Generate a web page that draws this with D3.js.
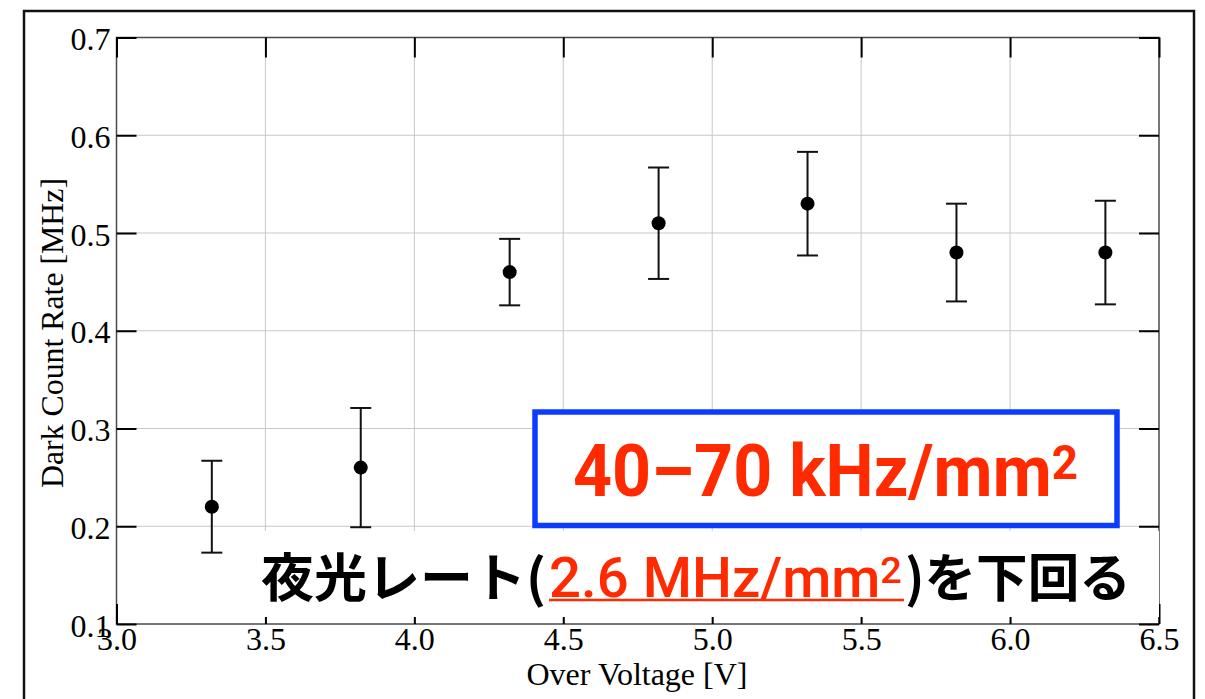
<!DOCTYPE html>
<html>
<head>
<meta charset="utf-8">
<script src="https://cdn.jsdelivr.net/npm/d3@7"></script>
<style>
  body { margin: 0; background: #fff; }
  svg { display: block; }
</style>
</head>
<body>
<div id="chart"></div>
<script>
// measured points: over voltage [V] vs dark count rate [MHz]
const overVoltage = [3.32, 3.82, 4.32, 4.82, 5.32, 5.82, 6.32];
const darkRate    = [0.22, 0.26, 0.46, 0.51, 0.53, 0.48, 0.48];
const rateErr     = [0.047, 0.061, 0.034, 0.057, 0.053, 0.050, 0.053];

const xTicks = [3.0, 3.5, 4.0, 4.5, 5.0, 5.5, 6.0, 6.5];
const yTicks = [0.1, 0.2, 0.3, 0.4, 0.5, 0.6, 0.7];

var width = 1205, height = 699;
// plot area (note: "top" is reserved on window, so use p* names)
var pLeft = 116.5, pRight = 1159, pTop = 37.5, pBottom = 624;

var svg = d3.select("#chart").append("svg")
    .attr("width", width)
    .attr("height", height);

// outer slide frame
svg.append("rect")
    .attr("x", 24).attr("y", 11)
    .attr("width", 1170).attr("height", 740)
    .attr("fill", "none")
    .attr("stroke", "#111")
    .attr("stroke-width", 2.5);

var x = d3.scaleLinear().domain([3.0, 6.5]).range([pLeft, pRight]);
var y = d3.scaleLinear().domain([0.1, 0.7]).range([pBottom, pTop]);

// grid
svg.append("g").selectAll("line")
    .data(xTicks.slice(1, -1))
    .join("line")
    .attr("x1", d => x(d)).attr("x2", d => x(d))
    .attr("y1", pTop).attr("y2", pBottom)
    .attr("stroke", "#c8c8c8").attr("stroke-width", 1);
svg.append("g").selectAll("line")
    .data(yTicks.slice(1, -1))
    .join("line")
    .attr("x1", pLeft).attr("x2", pRight)
    .attr("y1", d => y(d)).attr("y2", d => y(d))
    .attr("stroke", "#c8c8c8").attr("stroke-width", 1);

// plot frame
svg.append("rect")
    .attr("x", pLeft).attr("y", pTop)
    .attr("width", pRight - pLeft).attr("height", pBottom - pTop)
    .attr("fill", "none")
    .attr("stroke", "#4a4a4a")
    .attr("stroke-width", 1.5);

var fmt = d3.format(".1f");
var tickFont = "'Liberation Serif', 'Times New Roman', serif";

function styleAxis(g) {
    g.select(".domain").remove();
    g.selectAll(".tick line").attr("stroke", "#000").attr("stroke-width", 2);
    g.selectAll(".tick text")
        .attr("fill", "#000")
        .style("font-family", tickFont)
        .style("font-size", "32px");
}

svg.append("g")
    .attr("transform", "translate(" + pLeft + ",0)")
    .call(d3.axisLeft(y).tickValues(yTicks).tickSize(-20).tickPadding(6).tickFormat(fmt))
    .call(styleAxis)
    .call(g => g.selectAll(".tick text").attr("dy", "0.38em"));

svg.append("g")
    .attr("transform", "translate(0," + pBottom + ")")
    .call(d3.axisBottom(x).tickValues(xTicks).tickSize(-20).tickPadding(3).tickFormat(fmt))
    .call(styleAxis);

svg.append("g")
    .attr("transform", "translate(0," + pTop + ")")
    .call(d3.axisTop(x).tickValues(xTicks).tickSize(-20).tickFormat(""))
    .call(styleAxis);

svg.append("g")
    .attr("transform", "translate(" + pRight + ",0)")
    .call(d3.axisRight(y).tickValues(yTicks).tickSize(-20).tickFormat(""))
    .call(styleAxis);

// axis titles
svg.append("text")
    .attr("x", 637).attr("y", 685)
    .attr("text-anchor", "middle")
    .style("font-family", tickFont)
    .style("font-size", "32px")
    .text("Over Voltage [V]");

svg.append("text")
    .attr("transform", "translate(63,333) rotate(-90)")
    .attr("text-anchor", "middle")
    .style("font-family", tickFont)
    .style("font-size", "31.8px")
    .text("Dark Count Rate [MHz]");

// data: error bars + points
var pts = overVoltage.map((v, i) => ({x: v, y: darkRate[i], e: rateErr[i]}));
var eb = svg.append("g").attr("stroke", "#111").attr("stroke-width", 2);
eb.selectAll(".stem").data(pts).join("line")
    .attr("x1", d => x(d.x)).attr("x2", d => x(d.x))
    .attr("y1", d => y(d.y + d.e)).attr("y2", d => y(d.y - d.e));
eb.selectAll(".capT").data(pts).join("line")
    .attr("x1", d => x(d.x) - 10.5).attr("x2", d => x(d.x) + 10.5)
    .attr("y1", d => y(d.y + d.e)).attr("y2", d => y(d.y + d.e));
eb.selectAll(".capB").data(pts).join("line")
    .attr("x1", d => x(d.x) - 10.5).attr("x2", d => x(d.x) + 10.5)
    .attr("y1", d => y(d.y - d.e)).attr("y2", d => y(d.y - d.e));
svg.append("g").selectAll("circle").data(pts).join("circle")
    .attr("cx", d => x(d.x)).attr("cy", d => y(d.y))
    .attr("r", 7).attr("fill", "#000");

// squeeze a text element horizontally to a target width
function fitText(sel, x0, y0, w) {
    var bw = sel.node().getBBox().width;
    sel.attr("transform", "translate(" + x0 + "," + y0 + ") scale(" + (w / bw) + ",1)");
}

// blue annotation box
svg.append("rect")
    .attr("x", 535).attr("y", 412)
    .attr("width", 582).attr("height", 113.5)
    .attr("fill", "#fff")
    .attr("stroke", "#0b3cff")
    .attr("stroke-width", 5.5);

var red = "#ff2a00";
var t1 = svg.append("text")
    .attr("fill", red)
    .style("font-family", "Roboto, sans-serif")
    .style("font-weight", 700)
    .style("font-size", "73px");
t1.append("tspan").text("40\u201370 kHz/mm");
t1.append("tspan").attr("dy", -17).style("font-size", "49px").text("2");
fitText(t1, 573, 496, 505);

// white note box
svg.append("rect")
    .attr("x", 238).attr("y", 531)
    .attr("width", 921).attr("height", 86)
    .attr("fill", "#fff");

var jp = "'Noto Sans CJK JP', sans-serif";
var t2 = svg.append("text")
    .attr("fill", "#000")
    .style("font-family", jp)
    .style("font-weight", 700)
    .style("font-size", "52px")
    .text("夜光レート(");
fitText(t2, 261, 597, 285);

var t3 = svg.append("text")
    .attr("fill", red)
    .style("font-family", "Roboto, sans-serif")
    .style("font-weight", 500)
    .style("font-size", "55px");
t3.append("tspan").text("2.6 MHz/mm");
t3.append("tspan").attr("dy", -14).style("font-size", "37px").text("2");
fitText(t3, 549, 597, 353);

svg.append("line")
    .attr("x1", 549).attr("x2", 904)
    .attr("y1", 600).attr("y2", 600)
    .attr("stroke", red).attr("stroke-width", 2.5);

var t4 = svg.append("text")
    .attr("fill", "#000")
    .style("font-family", jp)
    .style("font-weight", 700)
    .style("font-size", "52px")
    .text(")を下回る");
fitText(t4, 905, 597, 226);
</script>
</body>
</html>
